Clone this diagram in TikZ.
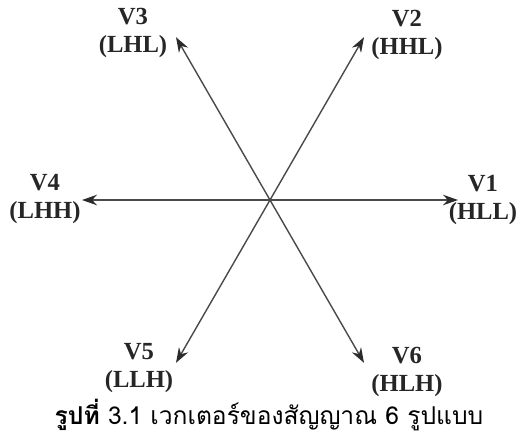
\documentclass[tikz,border=0pt]{standalone}
\usepackage{fontspec}
\setmainfont{Liberation Serif}
\newfontfamily\thaifont[Script=Thai]{Loma}
\usepackage{tikz}
\usetikzlibrary{arrows.meta, positioning, calc}
\definecolor{VecGray}  {HTML}{4A4A4A}
\definecolor{TipGray}  {HTML}{2B2B2B}

\begin{document}
\begin{tikzpicture}[
  x=0.02cm, y=-0.02cm,
  vlabel/.style = {align=center, inner sep=0pt,
                   font=\fontsize{14}{15.5}\selectfont\bfseries, text=black!85},
  vec/.style    = {-{Stealth[length=0.3cm, width=0.21cm, color=TipGray]},
                   VecGray, line width=0.8pt},
  caption/.style = {inner sep=0pt, font=\thaifont\fontsize{14}{16}\selectfont},
]
\useasboundingbox (0,0) rectangle (526,444);
\coordinate (o) at (270,200);
% vector tips, 60 degrees apart
\foreach \n/\a in {1/0, 2/60, 3/120, 4/180, 5/240, 6/300}
  \coordinate (t\n) at ($(o)+(-\a:188)$);
\node[vlabel] (v1) at (483,200) {V1\\(HLL)};
\node[vlabel] (v2) at (407,35)  {V2\\(HHL)};
\node[vlabel] (v3) at (133,33)  {V3\\(LHL)};
\node[vlabel] (v4) at (45,199)  {V4\\(LHH)};
\node[vlabel] (v5) at (139,368) {V5\\(LLH)};
\node[vlabel] (v6) at (407,372) {V6\\(HLH)};
\foreach \n in {1,...,6}
  \draw[vec] (o) -- (t\n);
\node[caption] (cap) at (269,415) {\textbf{รูปที่} 3.1 เวกเตอร์ของสัญญาณ 6 รูปแบบ};
\end{tikzpicture}
\end{document}
